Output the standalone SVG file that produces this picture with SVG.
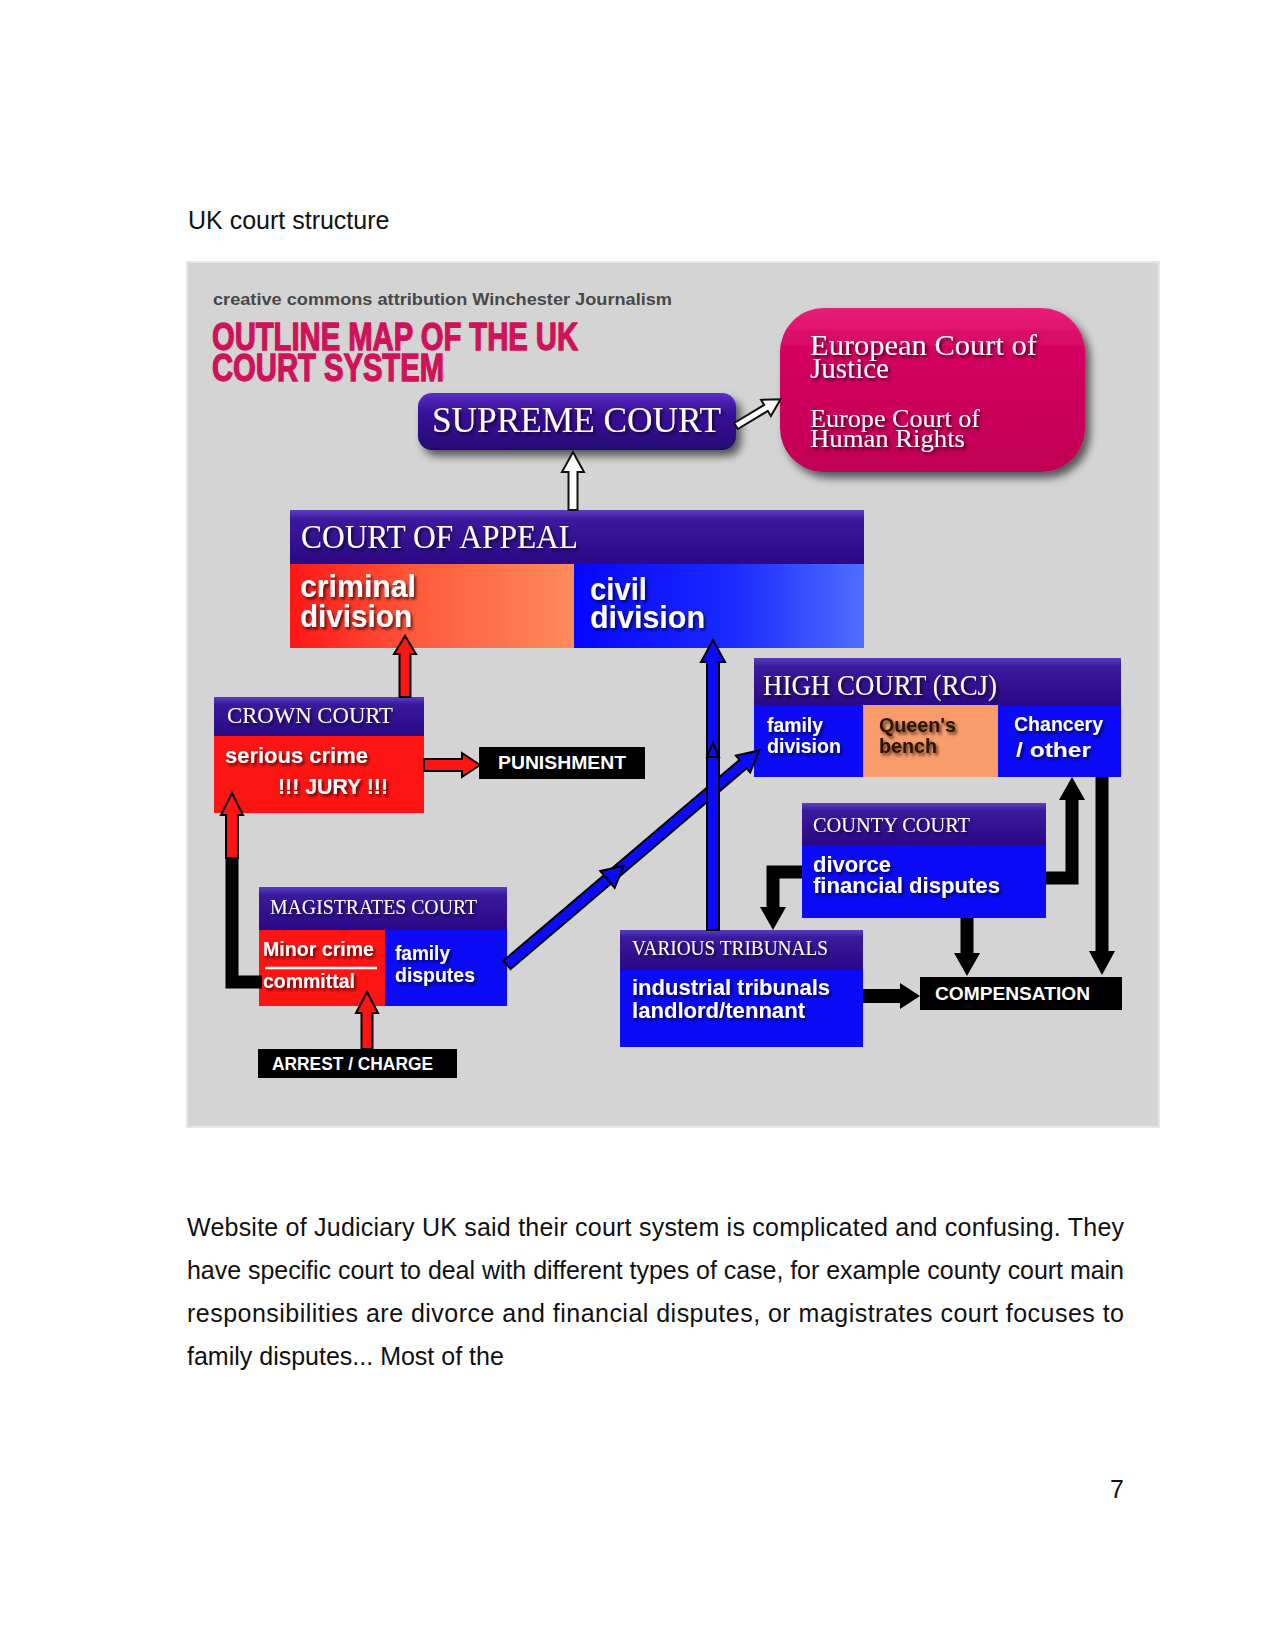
<svg xmlns="http://www.w3.org/2000/svg" width="1275" height="1650" viewBox="0 0 1275 1650">
<defs>
<style>
.pg{font-family:"Liberation Sans",Arial,Helvetica,sans-serif;font-size:25px;fill:#111}
.sf{font-family:"Liberation Serif","Times New Roman",serif;fill:#fff}
.sb{font-family:"Liberation Sans",Arial,sans-serif;font-weight:bold;fill:#fff}
.ts{filter:url(#tsh)}
.blk{fill:#000}
.blue{fill:#0b0bf7}
.red{fill:#ff1414}
.hdr{fill:url(#gHdr)}
.ar{stroke:#000;stroke-width:2;stroke-linejoin:miter}
.hol{fill:#fff;stroke:#111;stroke-width:2}
.bk{fill:#000}
.bline{fill:none;stroke:#000;stroke-width:13;stroke-linejoin:miter}
</style>
<linearGradient id="gHdr" x1="0" y1="0" x2="0" y2="1">
<stop offset="0" stop-color="#5c3cc0"/>
<stop offset="0.18" stop-color="#3a1a9c"/>
<stop offset="1" stop-color="#2a0886"/>
</linearGradient>
<linearGradient id="gSup" x1="0" y1="0" x2="0" y2="1">
<stop offset="0" stop-color="#5a30c4"/>
<stop offset="0.3" stop-color="#3c129e"/>
<stop offset="1" stop-color="#260675"/>
</linearGradient>
<linearGradient id="gEu" x1="0" y1="0" x2="0" y2="1">
<stop offset="0" stop-color="#e8217a"/>
<stop offset="0.25" stop-color="#d5045f"/>
<stop offset="1" stop-color="#c00055"/>
</linearGradient>
<linearGradient id="gCrim" x1="0" y1="0" x2="1" y2="0">
<stop offset="0" stop-color="#ff1616"/>
<stop offset="0.45" stop-color="#ff5a3c"/>
<stop offset="1" stop-color="#ff8c5c"/>
</linearGradient>
<linearGradient id="gCiv" x1="0" y1="0" x2="1" y2="0">
<stop offset="0" stop-color="#0606ff"/>
<stop offset="0.55" stop-color="#1a2aff"/>
<stop offset="1" stop-color="#4f6eff"/>
</linearGradient>
<filter id="tsh" x="-10%" y="-30%" width="130%" height="170%">
<feDropShadow dx="2" dy="2.5" stdDeviation="1.6" flood-color="#000" flood-opacity="0.65"/>
</filter>
<filter id="bsh" x="-10%" y="-15%" width="130%" height="145%">
<feDropShadow dx="5" dy="6" stdDeviation="4" flood-color="#000" flood-opacity="0.6"/>
</filter>
</defs>

<rect width="1275" height="1650" fill="#fff"/>
<text class="pg" x="188" y="229">UK court structure</text>

<rect id="panel" x="187" y="262" width="972" height="865" fill="#d4d4d4" stroke="#e6e6e6" stroke-width="2"/>

<g id="credit">
<text x="213" y="305" font-family="Liberation Sans, Arial, sans-serif" font-weight="bold" font-size="17" fill="#484848" textLength="459" lengthAdjust="spacingAndGlyphs">creative commons attribution Winchester Journalism</text>
</g>
<g id="title" font-family="Liberation Sans, Arial, sans-serif" font-weight="bold" font-size="38" fill="#cf1259" stroke="#cf1259" stroke-width="1.3">
<text x="212" y="350" textLength="366" lengthAdjust="spacingAndGlyphs">OUTLINE MAP OF THE UK</text>
<text x="212" y="381" textLength="232" lengthAdjust="spacingAndGlyphs">COURT SYSTEM</text>
</g>

<g id="supreme-court">
<rect x="418" y="393" width="318" height="57" rx="14" fill="url(#gSup)" filter="url(#bsh)"/>
<text class="sf ts" x="432" y="432" font-size="36" textLength="289" lengthAdjust="spacingAndGlyphs">SUPREME COURT</text>
</g>

<g id="european-courts">
<rect x="780" y="308" width="305" height="164" rx="44" fill="url(#gEu)" filter="url(#bsh)"/>
<text class="sf ts" x="810" y="355" font-size="30" textLength="227" lengthAdjust="spacingAndGlyphs">European Court of</text>
<text class="sf ts" x="810" y="378" font-size="30" textLength="79" lengthAdjust="spacingAndGlyphs">Justice</text>
<text class="sf ts" x="810" y="427" font-size="26" textLength="170" lengthAdjust="spacingAndGlyphs">Europe Court of</text>
<text class="sf ts" x="810" y="447" font-size="26" textLength="155" lengthAdjust="spacingAndGlyphs">Human Rights</text>
</g>

<g id="court-of-appeal">
<rect class="hdr" x="290" y="510" width="574" height="54"/>
<rect x="290" y="564" width="284" height="84" fill="url(#gCrim)"/>
<rect x="574" y="564" width="290" height="84" fill="url(#gCiv)"/>
<text class="sf ts" x="301" y="548" font-size="33" textLength="277" lengthAdjust="spacingAndGlyphs">COURT OF APPEAL</text>
<text class="sb ts" x="300" y="597" font-size="32" textLength="116" lengthAdjust="spacingAndGlyphs">criminal</text>
<text class="sb ts" x="300" y="627" font-size="32" textLength="112" lengthAdjust="spacingAndGlyphs">division</text>
<text class="sb ts" x="590" y="600" font-size="32" textLength="57" lengthAdjust="spacingAndGlyphs">civil</text>
<text class="sb ts" x="590" y="628" font-size="32" textLength="115" lengthAdjust="spacingAndGlyphs">division</text>
</g>

<g id="crown-court">
<rect class="hdr" x="214" y="697" width="210" height="39"/>
<rect class="red" x="214" y="736" width="210" height="77"/>
<text class="sf ts" x="227" y="723" font-size="23" textLength="166" lengthAdjust="spacingAndGlyphs">CROWN COURT</text>
<text class="sb ts" x="225" y="763" font-size="22" textLength="143" lengthAdjust="spacingAndGlyphs">serious crime</text>
<text class="sb ts" x="278" y="794" font-size="22" textLength="110" lengthAdjust="spacingAndGlyphs">!!! JURY !!!</text>
</g>

<g id="punishment">
<rect class="blk" x="479" y="747" width="166" height="32"/>
<text class="sb" x="498" y="769" font-size="19" textLength="128" lengthAdjust="spacingAndGlyphs">PUNISHMENT</text>
</g>

<g id="high-court">
<rect class="hdr" x="754" y="658" width="367" height="47"/>
<rect class="blue" x="754" y="705" width="109" height="72"/>
<rect x="863" y="705" width="135" height="72" fill="#f89c6c"/>
<rect class="blue" x="998" y="705" width="123" height="72"/>
<text class="sf ts" x="763" y="695" font-size="29" textLength="234" lengthAdjust="spacingAndGlyphs">HIGH COURT (RCJ)</text>
<text class="sb ts" x="767" y="732" font-size="21" textLength="56" lengthAdjust="spacingAndGlyphs">family</text>
<text class="sb ts" x="767" y="753" font-size="21" textLength="74" lengthAdjust="spacingAndGlyphs">division</text>
<text class="sb ts" x="879" y="732" font-size="21" textLength="77" lengthAdjust="spacingAndGlyphs" style="fill:#2b1200">Queen's</text>
<text class="sb ts" x="879" y="753" font-size="21" textLength="58" lengthAdjust="spacingAndGlyphs" style="fill:#2b1200">bench</text>
<text class="sb ts" x="1014" y="731" font-size="21" textLength="89" lengthAdjust="spacingAndGlyphs">Chancery</text>
<text class="sb ts" x="1016" y="757" font-size="21" textLength="75" lengthAdjust="spacingAndGlyphs">/ other</text>
</g>

<g id="county-court">
<rect class="hdr" x="802" y="803" width="244" height="42"/>
<rect class="blue" x="802" y="845" width="244" height="73"/>
<text class="sf ts" x="813" y="832" font-size="22" textLength="157" lengthAdjust="spacingAndGlyphs">COUNTY COURT</text>
<text class="sb ts" x="813" y="872" font-size="22" textLength="78" lengthAdjust="spacingAndGlyphs">divorce</text>
<text class="sb ts" x="813" y="893" font-size="22" textLength="187" lengthAdjust="spacingAndGlyphs">financial disputes</text>
</g>

<g id="magistrates-court">
<rect class="hdr" x="259" y="887" width="248" height="43"/>
<rect class="red" x="259" y="930" width="126" height="76"/>
<rect class="blue" x="385" y="930" width="122" height="76"/>
<text class="sf ts" x="270" y="914" font-size="21" textLength="207" lengthAdjust="spacingAndGlyphs">MAGISTRATES COURT</text>
<text class="sb ts" x="263" y="956" font-size="21" textLength="111" lengthAdjust="spacingAndGlyphs">Minor crime</text>
<line x1="265" y1="968" x2="377" y2="968" stroke="#fff" stroke-width="2.5"/>
<text class="sb ts" x="263" y="988" font-size="21" textLength="92" lengthAdjust="spacingAndGlyphs">committal</text>
<text class="sb ts" x="395" y="960" font-size="21" textLength="55" lengthAdjust="spacingAndGlyphs">family</text>
<text class="sb ts" x="395" y="982" font-size="21" textLength="80" lengthAdjust="spacingAndGlyphs">disputes</text>
</g>

<g id="arrest-charge">
<rect class="blk" x="258" y="1049" width="199" height="29"/>
<text class="sb" x="272" y="1070" font-size="18" textLength="161" lengthAdjust="spacingAndGlyphs">ARREST / CHARGE</text>
</g>

<g id="various-tribunals">
<rect class="hdr" x="620" y="930" width="243" height="40"/>
<rect class="blue" x="620" y="970" width="243" height="77"/>
<text class="sf ts" x="632" y="955" font-size="21" textLength="196" lengthAdjust="spacingAndGlyphs">VARIOUS TRIBUNALS</text>
<text class="sb ts" x="632" y="995" font-size="22" textLength="198" lengthAdjust="spacingAndGlyphs">industrial tribunals</text>
<text class="sb ts" x="632" y="1018" font-size="22" textLength="173" lengthAdjust="spacingAndGlyphs">landlord/tennant</text>
</g>

<g id="compensation">
<rect class="blk" x="920" y="977" width="202" height="33"/>
<text class="sb" x="935" y="1000" font-size="19" textLength="155" lengthAdjust="spacingAndGlyphs">COMPENSATION</text>
</g>

<g id="connectors">
<polygon class="hol" points="568.5,510 568.5,472 562,472 573,452 584,472 577.5,472 577.5,510"/>
<polygon class="hol" transform="translate(736,426) rotate(-31)" points="0,-3.5 35,-3.5 35,-9.5 52,0 35,9.5 35,3.5 0,3.5"/>
<polygon class="red ar" points="399.5,697 399.5,654 394,654 405,636 416,654 410.5,654 410.5,697"/>
<polygon class="red ar" points="424,759 462,759 462,753 480,765 462,777 462,771 424,771"/>
<path class="bline" d="M262 982 H232 V855" stroke-width="12"/>
<polygon class="red ar" points="226,858 226,815 221,815 232,793 243,815 238,815 238,858"/>
<polygon class="red ar" points="361.5,1049 361.5,1013 356,1013 367,992 378,1013 372.5,1013 372.5,1049"/>
<g transform="translate(507,965) rotate(-40.4)">
<polygon class="blue ar" points="0,-5.5 310,-5.5 310,-11 331,0 310,11 310,5.5 0,5.5"/>
<polygon class="blue ar" points="132,-11 153,0 132,11"/>
</g>
<polygon class="blue ar" points="707,930 707,662 701,662 713,640 725,662 719,662 719,930"/>
<polygon class="blue ar" points="707,757 713,743 719,757" stroke-width="1.5"/>
<polygon class="bk" points="863,989 900,989 900,983 920,996 900,1009 900,1003 863,1003"/>
<polygon class="bk" points="960.5,918 960.5,953 954,953 967,976 980,953 973.5,953 973.5,918"/>
<polygon class="bk" points="1095.5,777 1095.5,951 1089,951 1102,975 1115,951 1108.5,951 1108.5,777"/>
<path class="bline" d="M1046 878 H1072 V799"/>
<polygon class="bk" points="1059,800 1072,777 1085,800"/>
<path class="bline" d="M802 872 H773 V908"/>
<polygon class="bk" points="760,907 773,930 786,907"/>
</g>

<g id="body-text">
<text class="pg" x="187" y="1236" textLength="937" lengthAdjust="spacing">Website of Judiciary UK said their court system is complicated and confusing. They</text>
<text class="pg" x="187" y="1279" textLength="937" lengthAdjust="spacing">have specific court to deal with different types of case, for example county court main</text>
<text class="pg" x="187" y="1322" textLength="937" lengthAdjust="spacing">responsibilities are divorce and financial disputes, or magistrates court focuses to</text>
<text class="pg" x="187" y="1365">family disputes... Most of the</text>
</g>
<text class="pg" x="1124" y="1498" text-anchor="end">7</text>
</svg>
